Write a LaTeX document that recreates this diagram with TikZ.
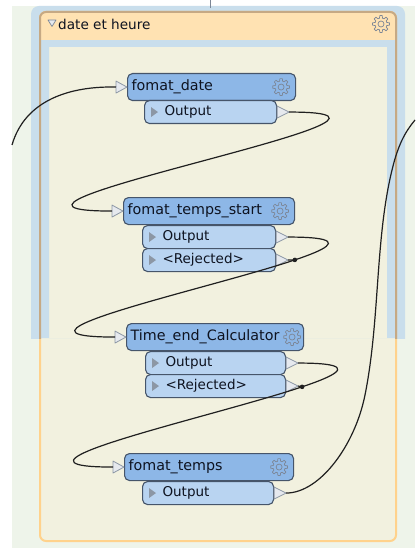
\documentclass[tikz,border=0pt]{standalone}
\usepackage{fontspec}
\setmainfont{DejaVu Sans}
\usetikzlibrary{calc}

\definecolor{pagebg}{HTML}{EEF4EA}
\definecolor{selblue}{HTML}{C9DEEC}
\definecolor{paper}{HTML}{F2F1DF}
\definecolor{bmhead}{HTML}{FFE2B2}
\definecolor{bmedge}{HTML}{FFD28C}
\definecolor{bmtan}{HTML}{C6A984}
\definecolor{hdrblue}{HTML}{8DB7E7}
\definecolor{portblue}{HTML}{B9D4F1}
\definecolor{boxedge}{HTML}{46556A}
\definecolor{tipfill}{HTML}{E6E9EE}
\definecolor{tipedge}{HTML}{8C97A5}
\definecolor{gearcol}{HTML}{7C8696}
\definecolor{wire}{HTML}{202020}
\definecolor{labeltext}{HTML}{0E1320}

\newcommand\hdrfont{\fontsize{14.3}{16}\selectfont}
\newcommand\portfont{\fontsize{13.5}{15}\selectfont}
\newcommand\bmfont{\fontsize{13.6}{15}\selectfont}

\tikzset{
  xfmr/.style={draw=boxedge, line width=1.1pt, fill=hdrblue, rounded corners=5pt,
    anchor=north west, minimum height=27pt, inner ysep=0pt, inner xsep=4pt,
    text width=#1, align=left, font=\hdrfont, text=labeltext},
  port/.style={draw=boxedge, line width=1.1pt, fill=portblue, rounded corners=5pt,
    anchor=north west, minimum height=23pt, inner ysep=0pt, inner xsep=20pt,
    text width=#1, align=left, font=\portfont, text=labeltext},
  conn/.style={draw=wire, line width=1.2pt},
  intip/.pic={\draw[fill=tipfill, draw=tipedge, line width=0.8pt, line join=round]
    (0,-6) -- (11,0) -- (0,6) -- cycle;},
  outtip/.pic={\draw[fill=tipfill, draw=tipedge, line width=0.8pt, line join=round]
    (0,-6) -- (12,0) -- (0,6) -- cycle;},
  portglyph/.pic={\fill[tipedge] (7,-5) -- (14,0) -- (7,5) -- cycle;},
  gear/.pic={
    \draw[gearcol, line width=0.7pt, line join=round]
      (-15:6) \foreach \a in {0,45,...,315}{ -- ({\a-15}:6) -- ({\a-8}:8.5) -- ({\a+8}:8.5) -- ({\a+15}:6) } -- cycle;
    \draw[gearcol, line width=0.7pt] (0,0) circle (3pt);
  },
}

\begin{document}
\begin{tikzpicture}[x=1pt,y=-1pt]
\useasboundingbox (0,0) rectangle (415,548);

% canvas
\fill[white] (0,0) rectangle (415,548);
\fill[pagebg] (12,6) rectangle (415,548);

% selection halo round the upper part of the bookmark
\begin{scope}
  \clip (0,0) rectangle (415,338);
  \fill[selblue, rounded corners=8pt] (31,6) rectangle (405,360);
\end{scope}

% bookmark body
\filldraw[fill=paper, draw=bmedge, line width=2pt, rounded corners=6pt] (40,12) rectangle (396,541);
\fill[selblue, even odd rule] (41,40) rectangle (395,338) (49,47) rectangle (387,338);

% bookmark title bar
\begin{scope}
  \clip (0,0) rectangle (415,40);
  \fill[bmhead, rounded corners=6pt] (40,12) rectangle (396,60);
\end{scope}
\begin{scope}
  \clip (0,0) rectangle (415,338);
  \draw[bmtan, line width=2pt, rounded corners=6pt] (40,12) rectangle (396,541);
\end{scope}
\filldraw[fill=tipfill, draw=gearcol, line width=0.7pt, line join=round] (48,20) -- (56,20) -- (52,26.5) -- cycle;
\node[anchor=west, font=\bmfont, text=labeltext, inner sep=0pt] (bmtitle) at (58,24) {date et heure};
\pic at (381,24) {gear};

% short wire stub at the top edge
\coordinate (tickA) at (210,0);
\coordinate (tickB) at (210,8);
\draw[draw=gearcol, line width=1pt] (tickA) -- (tickB);

% transformers
\node[xfmr=160pt] (fd) at (127,73) {fomat\_date};
\node[port=92pt] (fdout) at (144,100) {Output};

\node[xfmr=163pt] (fts) at (123,197) {fomat\_temps\_start};
\node[port=93pt] (ftsout) at (142,225) {Output};
\node[port=93pt] (ftsrej) at (142,248) {<Rejected>};

\node[xfmr=169pt] (tec) at (126,323) {Time\_end\_Calculator};
\node[port=100pt] (tecout) at (145,351) {Output};
\node[port=100pt] (tecrej) at (145,374) {<Rejected>};

\node[xfmr=161pt] (ft) at (124,453) {fomat\_temps};
\node[port=91pt] (ftout) at (142,481) {Output};

% gears on the transformer headers
\foreach \n in {fd,fts,ft}{ \pic at ($(\n.east)+(-15,0)$) {gear}; }
\pic at ($(tec.east)+(-12,0)$) {gear};

% port glyphs
\foreach \p in {fdout,ftsout,ftsrej,tecout,tecrej,ftout}{ \pic at (\p.west) {portglyph}; }

% input and output tips
\foreach \n in {fd,fts,tec,ft}{
  \coordinate (\n-in) at ($(\n.west)+(-11,0)$);
  \pic at (\n-in) {intip};
}
\foreach \p in {fdout,ftsout,ftsrej,tecout,tecrej,ftout}{
  \coordinate (\p-x) at ($(\p.east)+(12,0)$);
  \pic at (\p.east) {outtip};
}

% connections
\coordinate (feed) at (12,145);
\coordinate (exit) at (415,120);
\draw[conn] (feed) .. controls (25,100) and (70,86) .. (fd-in);
\draw[conn] (fdout-x) .. controls +(190,0) and +(-190,0) .. (fts-in);
\draw[conn] (ftsout-x) .. controls +(190,0) and +(-190,0) .. (tec-in) coordinate[pos=0.31] (j1);
\draw[conn] (tecout-x) .. controls +(190,0) and +(-190,0) .. (ft-in) coordinate[pos=0.31] (j2);
\draw[conn] (ftsrej-x) -- (j1);
\draw[conn] (tecrej-x) -- (j2);
\fill[wire] (j1) circle (2.3pt);
\fill[wire] (j2) circle (2.3pt);
\draw[conn] (ftout-x) .. controls (320,493) and (355,445) .. (365,395)
  .. controls (380,320) and (375,240) .. (392,170)
  .. controls (398,145) and (405,132) .. (exit);
\end{tikzpicture}
\end{document}
